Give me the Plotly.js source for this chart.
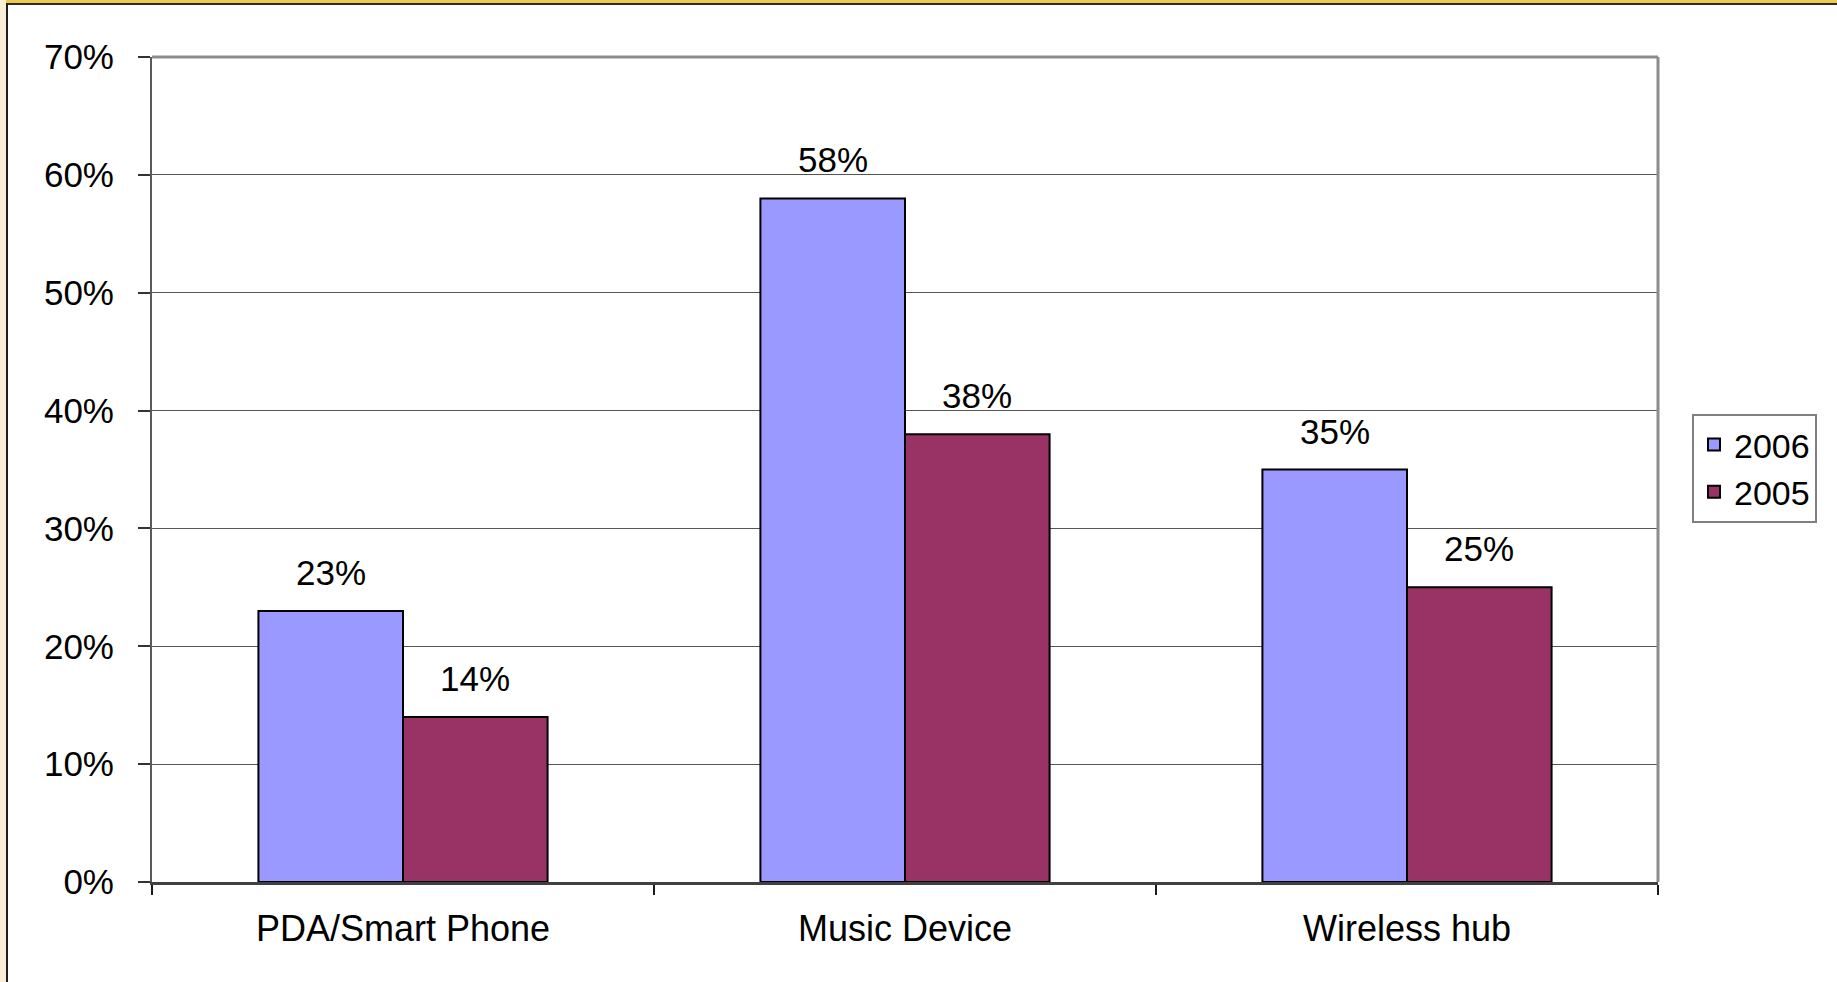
<!DOCTYPE html>
<html>
<head>
<meta charset="utf-8">
<script src="https://cdn.plot.ly/plotly-3.0.1.min.js"></script>
<style>
  html, body { margin: 0; padding: 0; background: #ffffff; }
  #wrap { position: relative; width: 1837px; height: 982px; overflow: hidden; background: #ffffff; }
  #topband { position: absolute; left: 0; top: 0; width: 1837px; height: 3px; background: #f0c94e; }
  #topline { position: absolute; left: 6px; top: 3px; width: 1831px; height: 2px; background: #2b2b2b; }
  #leftband { position: absolute; left: 0; top: 0; width: 6px; height: 982px; background: #faefd4; }
  #leftline { position: absolute; left: 6px; top: 3px; width: 2px; height: 979px; background: #1e1e1e; }
  #chart { position: absolute; left: 0; top: 0; width: 1837px; height: 982px; }
</style>
</head>
<body>
<div id="wrap">
  <div id="topband"></div>
  <div id="leftband"></div>
  <div id="topline"></div>
  <div id="leftline"></div>
  <div id="chart"></div>
</div>
<script>
// ---- Data ----
const categories = ["PDA/Smart Phone", "Music Device", "Wireless hub"];
const seriesNames = ["2006", "2005"];
const values2006 = [0.23, 0.58, 0.35];
const values2005 = [0.14, 0.38, 0.25];
const yTickValues = [0, 0.1, 0.2, 0.3, 0.4, 0.5, 0.6, 0.7];
const yTickLabels = ["0%", "10%", "20%", "30%", "40%", "50%", "60%", "70%"];

const colors = ["#9999ff", "#993366"];
const FONT = "Liberation Sans, Arial, sans-serif";
const bargap = 0.424;

const seriesValues = [values2006, values2005];

const traces = seriesNames.map((name, s) => ({
  type: "bar",
  name: name,
  x: categories,
  y: seriesValues[s],
  marker: { color: colors[s], line: { color: "#000000", width: 2 } },
  hoverinfo: "x+y+name"
}));

// data labels above each bar (positions derived from the bar layout)
const groupWidth = 1 - bargap;
const barW = groupWidth / seriesNames.length;
const annotations = [];
seriesValues.forEach((vals, s) => {
  vals.forEach((v, i) => {
    annotations.push({
      x: i - groupWidth / 2 + barW * (s + 0.5),
      y: v,
      xref: "x", yref: "y",
      text: Math.round(v * 100) + "%",
      showarrow: false,
      yanchor: "bottom",
      yshift: 17,
      font: { family: FONT, size: 35, color: "#000000" }
    });
  });
});

const layout = {
  width: 1837,
  height: 982,
  margin: { l: 152, r: 179, t: 57, b: 100, pad: 0 },
  paper_bgcolor: "rgba(0,0,0,0)",
  plot_bgcolor: "#ffffff",
  barmode: "group",
  bargap: bargap,
  bargroupgap: 0,
  font: { family: FONT, size: 35, color: "#000000" },
  showlegend: true,
  legend: {
    x: (1692 - 152) / 1506, xanchor: "left",
    y: (882 - 414) / 825, yanchor: "top",
    bgcolor: "#ffffff",
    bordercolor: "#808080",
    borderwidth: 2,
    font: { family: FONT, size: 34, color: "#000000" },
    traceorder: "normal"
  },
  xaxis: {
    type: "category",
    showgrid: false,
    showline: true,
    linecolor: "#404040",
    linewidth: 3,
    ticks: "outside",
    tickson: "boundaries",
    ticklen: 10,
    tickwidth: 2,
    tickcolor: "#1a1a1a",
    ticklabelstandoff: 13,
    tickfont: { family: FONT, size: 36, color: "#000000" },
    zeroline: false,
    fixedrange: true
  },
  yaxis: {
    range: [0, 0.7],
    tickmode: "array",
    tickvals: yTickValues,
    ticktext: yTickLabels,
    showgrid: true,
    gridcolor: "#555555",
    gridwidth: 1,
    showline: true,
    linecolor: "#5a5a5a",
    linewidth: 2,
    ticks: "outside",
    ticklen: 12,
    tickwidth: 2,
    tickcolor: "#333333",
    ticklabelstandoff: 17,
    tickfont: { family: FONT, size: 35, color: "#000000" },
    zeroline: false,
    fixedrange: true
  },
  shapes: [
    { type: "line", xref: "paper", yref: "paper", x0: 0, x1: 1, y0: 1, y1: 1,
      line: { color: "#8c8c8c", width: 3 } },
    { type: "line", xref: "paper", yref: "paper", x0: 1, x1: 1, y0: 0, y1: 1,
      line: { color: "#8c8c8c", width: 3 } }
  ],
  annotations: annotations
};

Plotly.newPlot("chart", traces, layout, { displayModeBar: false, staticPlot: true });
</script>
</body>
</html>
